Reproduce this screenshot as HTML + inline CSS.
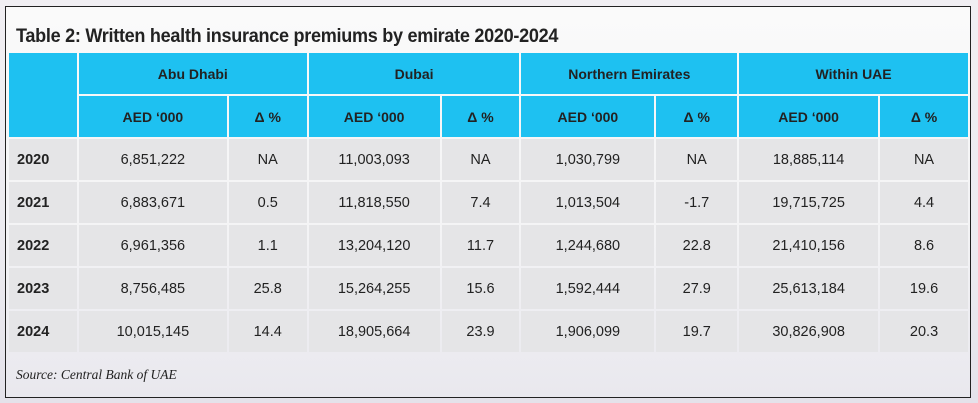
<!DOCTYPE html>
<html><head><meta charset="utf-8"><style>
html,body{margin:0;padding:0;}
body{width:978px;height:403px;background:linear-gradient(180deg,#f1eff3 0%,#ecebf0 60%,#e4e2ea 100%);position:relative;overflow:hidden;font-family:"Liberation Sans",sans-serif;}
.box{position:absolute;left:5px;top:6px;width:964px;height:390px;border:1px solid #222;background:linear-gradient(180deg,#fafafa 0%,#f3f3f5 60%,#e9e8ee 100%);}
.title{position:absolute;left:10px;top:19px;font-size:19px;font-weight:bold;color:#222;letter-spacing:-0.3px;transform:scaleX(0.95);transform-origin:left;}
table{position:absolute;left:1px;top:44px;border-collapse:separate;border-spacing:2px;table-layout:fixed;}
td{height:41px;padding:0;text-align:center;font-size:14.5px;color:#222;background:#e5e5e7;}
tr.h td{background:#1ec1f1;font-weight:bold;font-size:14px;}
td.y{text-align:left;padding-left:8px;font-weight:bold;}
.src{position:absolute;left:10px;top:360px;font-family:"Liberation Serif",serif;font-style:italic;font-size:13.5px;color:#222;}
</style></head><body>
<div class="box">
<div class="title">Table 2: Written health insurance premiums by emirate 2020-2024</div>
<table>
<colgroup><col style="width:68px"><col style="width:148px"><col style="width:78px"><col style="width:131px"><col style="width:78px"><col style="width:133px"><col style="width:81px"><col style="width:139px"><col style="width:88px"></colgroup>
<tr class="h"><td rowspan="2"></td><td colspan="2">Abu Dhabi</td><td colspan="2">Dubai</td><td colspan="2">Northern Emirates</td><td colspan="2">Within UAE</td></tr>
<tr class="h"><td>AED ‘000</td><td>Δ %</td><td>AED ‘000</td><td>Δ %</td><td>AED ‘000</td><td>Δ %</td><td>AED ‘000</td><td>Δ %</td></tr>
<tr><td class="y">2020</td><td>6,851,222</td><td>NA</td><td>11,003,093</td><td>NA</td><td>1,030,799</td><td>NA</td><td>18,885,114</td><td>NA</td></tr>
<tr><td class="y">2021</td><td>6,883,671</td><td>0.5</td><td>11,818,550</td><td>7.4</td><td>1,013,504</td><td>-1.7</td><td>19,715,725</td><td>4.4</td></tr>
<tr><td class="y">2022</td><td>6,961,356</td><td>1.1</td><td>13,204,120</td><td>11.7</td><td>1,244,680</td><td>22.8</td><td>21,410,156</td><td>8.6</td></tr>
<tr><td class="y">2023</td><td>8,756,485</td><td>25.8</td><td>15,264,255</td><td>15.6</td><td>1,592,444</td><td>27.9</td><td>25,613,184</td><td>19.6</td></tr>
<tr><td class="y">2024</td><td>10,015,145</td><td>14.4</td><td>18,905,664</td><td>23.9</td><td>1,906,099</td><td>19.7</td><td>30,826,908</td><td>20.3</td></tr>
</table>
<div class="src">Source: Central Bank of UAE</div>
</div>
</body></html>
